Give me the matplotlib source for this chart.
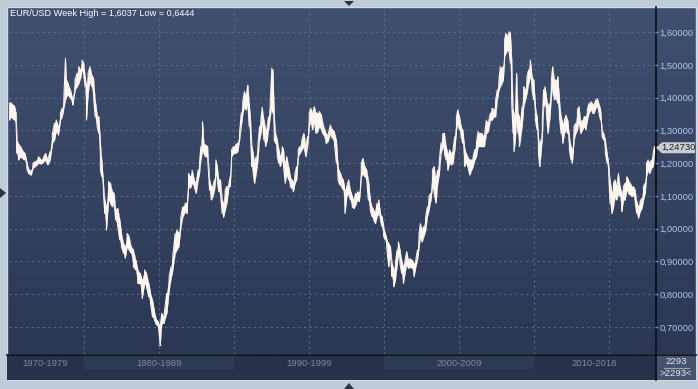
import numpy as np
import matplotlib
matplotlib.use("Agg")
import matplotlib.pyplot as plt
import matplotlib.patches as mpatches
from matplotlib.transforms import blended_transform_factory
from matplotlib.ticker import FuncFormatter

plt.rcParams["font.family"] = ["Liberation Sans", "DejaVu Sans"]

# weekly EUR/USD as (year, high, low) knots
years = [
    1975.06, 1975.17, 1975.39, 1975.50, 1975.57, 1975.66, 1975.79, 1975.92, 1976.10, 1976.23,
    1976.37, 1976.50, 1976.63, 1976.77, 1976.99, 1977.17, 1977.34, 1977.48, 1977.61, 1977.77,
    1977.92, 1978.06, 1978.17, 1978.32, 1978.46, 1978.57, 1978.68, 1978.79, 1978.86, 1978.99,
    1979.12, 1979.28, 1979.43, 1979.57, 1979.68, 1979.79, 1979.90, 1980.01, 1980.10, 1980.19,
    1980.30, 1980.43, 1980.54, 1980.66, 1980.77, 1980.90, 1981.01, 1981.12, 1981.21, 1981.32,
    1981.41, 1981.52, 1981.66, 1981.79, 1981.92, 1982.03, 1982.14, 1982.28, 1982.41, 1982.52,
    1982.66, 1982.77, 1982.90, 1983.03, 1983.17, 1983.32, 1983.48, 1983.61, 1983.77, 1983.90,
    1984.06, 1984.19, 1984.34, 1984.46, 1984.59, 1984.72, 1984.86, 1984.99, 1985.10, 1985.21,
    1985.34, 1985.54, 1985.70, 1985.83, 1985.94, 1986.10, 1986.21, 1986.34, 1986.48, 1986.61,
    1986.77, 1986.88, 1986.99, 1987.10, 1987.23, 1987.37, 1987.50, 1987.63, 1987.72, 1987.81,
    1987.92, 1988.01, 1988.12, 1988.26, 1988.39, 1988.50, 1988.61, 1988.72, 1988.81, 1988.90,
    1989.01, 1989.12, 1989.23, 1989.32, 1989.43, 1989.54, 1989.68, 1989.77, 1989.86, 1989.99,
    1990.12, 1990.26, 1990.39, 1990.50, 1990.61, 1990.72, 1990.83, 1990.94, 1991.03, 1991.12,
    1991.21, 1991.30, 1991.39, 1991.50, 1991.61, 1991.72, 1991.81, 1991.90, 1992.01, 1992.12,
    1992.23, 1992.32, 1992.43, 1992.54, 1992.61, 1992.70, 1992.79, 1992.90, 1993.01, 1993.10,
    1993.23, 1993.32, 1993.43, 1993.54, 1993.66, 1993.77, 1993.88, 1993.97, 1994.08, 1994.19,
    1994.30, 1994.41, 1994.54, 1994.68, 1994.81, 1994.92, 1995.03, 1995.14, 1995.26, 1995.37,
    1995.48, 1995.59, 1995.70, 1995.84, 1995.99, 1996.15, 1996.28, 1996.44, 1996.57, 1996.70,
    1996.84, 1996.95, 1997.06, 1997.19, 1997.30, 1997.41, 1997.53, 1997.66, 1997.77, 1997.90,
    1998.01, 1998.13, 1998.24, 1998.37, 1998.50, 1998.61, 1998.73, 1998.86, 1998.97, 1999.10,
    1999.21, 1999.33, 1999.44, 1999.55, 1999.66, 1999.77, 1999.88, 1999.99, 2000.10, 2000.21,
    2000.33, 2000.44, 2000.55, 2000.66, 2000.77, 2000.88, 2000.97, 2001.08, 2001.19, 2001.30,
    2001.41, 2001.53, 2001.64, 2001.77, 2001.90, 2002.01, 2002.13, 2002.24, 2002.35, 2002.44,
    2002.55, 2002.66, 2002.79, 2002.90, 2003.01, 2003.12, 2003.24, 2003.35, 2003.48, 2003.59,
    2003.70, 2003.81, 2003.93, 2004.04, 2004.15, 2004.26, 2004.37, 2004.50, 2004.61, 2004.73,
    2004.84, 2004.93, 2005.04, 2005.15, 2005.26, 2005.37, 2005.48, 2005.59, 2005.73, 2005.84,
    2005.95, 2006.06, 2006.17, 2006.28, 2006.39, 2006.54, 2006.70, 2006.83, 2006.96, 2007.10,
    2007.21, 2007.34, 2007.45, 2007.56, 2007.67, 2007.76, 2007.87, 2007.96, 2008.05, 2008.14,
    2008.25, 2008.36, 2008.43, 2008.52, 2008.61, 2008.67, 2008.76, 2008.85, 2008.94, 2009.03,
    2009.12, 2009.21, 2009.32, 2009.43, 2009.54, 2009.65, 2009.76, 2009.87, 2009.99, 2010.10,
    2010.21, 2010.30, 2010.39, 2010.47, 2010.56, 2010.65, 2010.74, 2010.83, 2010.94, 2011.05,
    2011.16, 2011.25, 2011.36, 2011.47, 2011.59, 2011.70, 2011.81, 2011.92, 2012.03, 2012.14,
    2012.25, 2012.36, 2012.47, 2012.56, 2012.67, 2012.79, 2012.90, 2013.01, 2013.12, 2013.23,
    2013.34, 2013.45, 2013.56, 2013.67, 2013.79, 2013.90, 2014.01, 2014.12, 2014.21, 2014.32,
    2014.43, 2014.54, 2014.65, 2014.76, 2014.88, 2014.99, 2015.07, 2015.19, 2015.30, 2015.41,
    2015.52, 2015.63, 2015.74, 2015.85, 2015.96, 2016.07, 2016.19, 2016.30, 2016.41, 2016.52,
    2016.63, 2016.74, 2016.85, 2016.96, 2017.07, 2017.19, 2017.30, 2017.41, 2017.50, 2017.61,
    2017.72, 2017.83, 2017.94, 2018.03,
]
highs = [
    1.383, 1.385, 1.375, 1.353, 1.266, 1.261, 1.251, 1.241, 1.230, 1.200,
    1.179, 1.177, 1.200, 1.205, 1.220, 1.210, 1.220, 1.230, 1.210, 1.235,
    1.291, 1.322, 1.332, 1.312, 1.353, 1.368, 1.393, 1.521, 1.455, 1.440,
    1.424, 1.393, 1.455, 1.475, 1.495, 1.485, 1.515, 1.505, 1.465, 1.434,
    1.475, 1.495, 1.470, 1.459, 1.393, 1.347, 1.342, 1.261, 1.210, 1.139,
    1.088, 1.067, 1.144, 1.139, 1.113, 1.108, 1.057, 1.062, 1.027, 0.986,
    0.955, 0.945, 0.986, 0.976, 0.945, 0.935, 0.904, 0.874, 0.864, 0.843,
    0.874, 0.864, 0.833, 0.803, 0.782, 0.747, 0.721, 0.716, 0.701, 0.742,
    0.731, 0.803, 0.854, 0.884, 0.915, 0.986, 0.996, 0.986, 1.037, 1.067,
    1.078, 1.078, 1.169, 1.159, 1.179, 1.149, 1.139, 1.179, 1.200, 1.251,
    1.327, 1.261, 1.256, 1.251, 1.149, 1.129, 1.129, 1.149, 1.210, 1.190,
    1.149, 1.149, 1.088, 1.078, 1.118, 1.129, 1.139, 1.159, 1.241, 1.251,
    1.256, 1.261, 1.291, 1.353, 1.393, 1.419, 1.403, 1.439, 1.383, 1.332,
    1.251, 1.230, 1.200, 1.220, 1.251, 1.312, 1.332, 1.371, 1.332, 1.302,
    1.312, 1.342, 1.383, 1.490, 1.485, 1.342, 1.291, 1.271, 1.241, 1.220,
    1.251, 1.241, 1.190, 1.220, 1.190, 1.159, 1.149, 1.144, 1.169, 1.190,
    1.241, 1.251, 1.271, 1.291, 1.251, 1.281, 1.353, 1.368, 1.353, 1.373,
    1.353, 1.353, 1.358, 1.347, 1.312, 1.291, 1.286, 1.317, 1.302, 1.297,
    1.271, 1.190, 1.174, 1.159, 1.149, 1.118, 1.129, 1.149, 1.118, 1.098,
    1.088, 1.108, 1.113, 1.108, 1.200, 1.215, 1.190, 1.179, 1.149, 1.088,
    1.067, 1.057, 1.047, 1.078, 1.088, 1.047, 1.037, 1.006, 0.986, 0.966,
    0.955, 0.945, 0.894, 0.874, 0.894, 0.935, 0.960, 0.935, 0.904, 0.884,
    0.904, 0.930, 0.904, 0.909, 0.904, 0.894, 0.904, 0.935, 0.986, 1.016,
    0.996, 1.006, 1.037, 1.067, 1.098, 1.108, 1.179, 1.190, 1.149, 1.179,
    1.210, 1.261, 1.291, 1.291, 1.251, 1.230, 1.241, 1.230, 1.241, 1.281,
    1.342, 1.363, 1.342, 1.312, 1.302, 1.251, 1.230, 1.220, 1.210, 1.210,
    1.220, 1.241, 1.261, 1.297, 1.291, 1.291, 1.281, 1.332, 1.322, 1.353,
    1.368, 1.363, 1.393, 1.424, 1.454, 1.495, 1.490, 1.495, 1.577, 1.597,
    1.587, 1.602, 1.597, 1.515, 1.363, 1.353, 1.342, 1.475, 1.353, 1.342,
    1.322, 1.373, 1.434, 1.424, 1.465, 1.485, 1.515, 1.465, 1.454, 1.373,
    1.342, 1.281, 1.251, 1.271, 1.332, 1.424, 1.434, 1.403, 1.373, 1.383,
    1.454, 1.495, 1.454, 1.454, 1.465, 1.393, 1.342, 1.322, 1.332, 1.347,
    1.332, 1.281, 1.251, 1.241, 1.312, 1.322, 1.363, 1.373, 1.322, 1.332,
    1.342, 1.342, 1.363, 1.383, 1.388, 1.383, 1.378, 1.393, 1.398, 1.383,
    1.368, 1.302, 1.291, 1.271, 1.230, 1.190, 1.149, 1.108, 1.139, 1.149,
    1.129, 1.169, 1.129, 1.108, 1.129, 1.139, 1.159, 1.149, 1.139, 1.129,
    1.129, 1.118, 1.083, 1.067, 1.083, 1.093, 1.129, 1.139, 1.200, 1.210,
    1.200, 1.210, 1.230, 1.251,
]
lows = [
    1.332, 1.342, 1.332, 1.322, 1.230, 1.210, 1.220, 1.215, 1.210, 1.180,
    1.167, 1.164, 1.185, 1.190, 1.200, 1.198, 1.205, 1.210, 1.195, 1.210,
    1.261, 1.271, 1.297, 1.286, 1.332, 1.342, 1.368, 1.393, 1.404, 1.409,
    1.398, 1.378, 1.424, 1.434, 1.444, 1.459, 1.485, 1.470, 1.434, 1.332,
    1.414, 1.454, 1.434, 1.403, 1.342, 1.312, 1.291, 1.179, 1.159, 1.108,
    1.047, 0.996, 1.088, 1.078, 1.067, 1.078, 1.027, 1.006, 0.966, 0.945,
    0.925, 0.910, 0.945, 0.935, 0.925, 0.884, 0.874, 0.833, 0.833, 0.787,
    0.833, 0.823, 0.792, 0.772, 0.731, 0.721, 0.706, 0.701, 0.645, 0.711,
    0.711, 0.742, 0.813, 0.849, 0.874, 0.925, 0.935, 0.945, 1.006, 1.037,
    1.052, 1.047, 1.129, 1.123, 1.139, 1.129, 1.108, 1.149, 1.169, 1.210,
    1.241, 1.230, 1.220, 1.220, 1.118, 1.088, 1.098, 1.118, 1.169, 1.149,
    1.113, 1.108, 1.047, 1.035, 1.057, 1.078, 1.129, 1.129, 1.220, 1.230,
    1.230, 1.235, 1.271, 1.312, 1.353, 1.373, 1.363, 1.383, 1.312, 1.281,
    1.190, 1.169, 1.139, 1.169, 1.210, 1.271, 1.291, 1.332, 1.271, 1.251,
    1.271, 1.302, 1.342, 1.373, 1.353, 1.271, 1.261, 1.220, 1.200, 1.190,
    1.210, 1.190, 1.139, 1.169, 1.149, 1.129, 1.123, 1.113, 1.139, 1.149,
    1.220, 1.230, 1.241, 1.251, 1.220, 1.251, 1.312, 1.332, 1.302, 1.332,
    1.291, 1.297, 1.312, 1.302, 1.286, 1.261, 1.266, 1.291, 1.276, 1.266,
    1.200, 1.149, 1.134, 1.129, 1.118, 1.047, 1.098, 1.108, 1.088, 1.067,
    1.062, 1.073, 1.088, 1.083, 1.159, 1.169, 1.159, 1.149, 1.088, 1.057,
    1.037, 1.027, 1.016, 1.037, 1.047, 1.027, 1.006, 0.976, 0.966, 0.935,
    0.884, 0.925, 0.854, 0.823, 0.843, 0.884, 0.925, 0.894, 0.864, 0.833,
    0.864, 0.894, 0.879, 0.884, 0.879, 0.854, 0.884, 0.904, 0.945, 0.976,
    0.960, 0.976, 0.996, 1.037, 1.057, 1.083, 1.129, 1.108, 1.078, 1.139,
    1.169, 1.230, 1.251, 1.230, 1.210, 1.179, 1.200, 1.195, 1.200, 1.241,
    1.302, 1.322, 1.302, 1.281, 1.261, 1.190, 1.200, 1.190, 1.164, 1.179,
    1.190, 1.210, 1.220, 1.251, 1.251, 1.251, 1.251, 1.291, 1.297, 1.332,
    1.332, 1.342, 1.342, 1.393, 1.424, 1.434, 1.444, 1.454, 1.526, 1.536,
    1.546, 1.536, 1.505, 1.383, 1.291, 1.236, 1.271, 1.342, 1.291, 1.251,
    1.281, 1.312, 1.373, 1.393, 1.414, 1.444, 1.465, 1.424, 1.393, 1.332,
    1.302, 1.230, 1.190, 1.230, 1.281, 1.373, 1.383, 1.353, 1.291, 1.332,
    1.403, 1.434, 1.393, 1.403, 1.383, 1.342, 1.291, 1.261, 1.291, 1.302,
    1.291, 1.241, 1.210, 1.200, 1.271, 1.291, 1.302, 1.332, 1.291, 1.302,
    1.312, 1.302, 1.332, 1.353, 1.363, 1.353, 1.353, 1.368, 1.373, 1.358,
    1.332, 1.281, 1.271, 1.230, 1.200, 1.159, 1.078, 1.047, 1.067, 1.098,
    1.088, 1.108, 1.098, 1.052, 1.088, 1.088, 1.118, 1.108, 1.103, 1.098,
    1.103, 1.083, 1.047, 1.032, 1.052, 1.062, 1.088, 1.108, 1.159, 1.179,
    1.169, 1.185, 1.190, 1.230,
]
last_price = 1.24730
week_high = "1,6037"
week_low = "0,6444"
bar_count = 2293

y_ticks = [0.7, 0.8, 0.9, 1.0, 1.1, 1.2, 1.3, 1.4, 1.5, 1.6]
x_grid = [1980, 1985, 1990, 1995, 2000, 2005, 2010, 2015]
decades = ["1970-1979", "1980-1989", "1990-1999", "2000-2009", "2010-2018"]
decade_edges = [1975.0, 1980.0, 1990.0, 2000.0, 2010.0, 2018.09]

W, H = 698, 389
fig = plt.figure(figsize=(W / 100, H / 100), dpi=100)
fig.patch.set_facecolor("#c0cbd8")

# pixel-space background axes
bg = fig.add_axes([0, 0, 1, 1])
bg.set_xlim(0, W)
bg.set_ylim(H, 0)
bg.axis("off")

grad = np.linspace(0, 1, 256).reshape(-1, 1)
cmap = matplotlib.colors.LinearSegmentedColormap.from_list("bgc", ["#415070", "#2b3753"])
bg.imshow(grad, extent=[7, 696, 354, 7], cmap=cmap, aspect="auto", zorder=0)
bg.add_patch(mpatches.Rectangle((7, 7), 689, 373, fill=False, ec="#d4dbe4", lw=1, zorder=1))
bg.add_patch(mpatches.Rectangle((7, 354.5), 649, 25.5, fc="#27334b", ec="none", zorder=1))
bg.add_patch(mpatches.Rectangle((656, 354.5), 40, 25.5, fc="#46536e", ec="none", zorder=1))
bg.plot([7, 696], [354.5, 354.5], color="#0c0c0c", lw=1.2, zorder=3)
bg.plot([655.5, 655.5], [7, 380], color="#0c0c0c", lw=1.2, zorder=3)

# navigation triangles
for pts in ([(344, 1), (354, 1), (349, 6)], [(344, 389), (354, 389), (349, 383)], [(0, 188), (0, 198), (6, 193)]):
    bg.add_patch(mpatches.Polygon(pts, closed=True, fc="#2b3440", ec="none", zorder=2))

bg.text(10, 13, f"EUR/USD Week High = {week_high} Low = {week_low}", color="white",
        fontsize=6.6, va="center", ha="left", zorder=4)

bg.text(676, 361.5, str(bar_count), color="#e4eaf2", fontsize=6.8, ha="center", va="center", zorder=4)
bg.plot([664, 689], [367.5, 367.5], color="#9aa4b6", lw=0.8, zorder=4)
bg.text(676, 374, f">{bar_count}<", color="#e4eaf2", fontsize=6.8, ha="center", va="center", zorder=4)

# data axes
x0, x1, y0, y1 = 8.5, 655.3, 8, 354
ax = fig.add_axes([x0 / W, (H - y1) / H, (x1 - x0) / W, (y1 - y0) / H])
ax.set_facecolor("none")
ax.set_xlim(1975.0, 2018.09)
ax.set_ylim(0.6175, 1.674)
for s in ax.spines.values():
    s.set_visible(False)

for v in y_ticks:
    ax.axhline(v, color="#5a6985", lw=0.8, ls=(0, (2, 3)), zorder=1)
for v in x_grid:
    ax.axvline(v, color="#5a6985", lw=0.8, ls=(0, (2, 3)), zorder=1)

ax.yaxis.tick_right()
ax.set_yticks(y_ticks)
ax.yaxis.set_major_formatter(FuncFormatter(lambda v, p: f"{v:.5f}".replace(".", ",")))
ax.tick_params(axis="y", colors="#5b8fd0", length=2, width=1, pad=1, labelsize=6.8, labelcolor="#a9c6ee")
ax.set_xticks([])

yr = np.array(years)
hi = np.array(highs)
lo = np.array(lows)
col = "#fff6f0"
ax.fill_between(yr, lo, hi, color=col, lw=0.2, ec=col, zorder=3)
zx = np.repeat(yr, 2)
zy = np.empty(2 * len(yr))
zy[0::2] = np.where(np.arange(len(yr)) % 2 == 0, lo, hi)
zy[1::2] = np.where(np.arange(len(yr)) % 2 == 0, hi, lo)
ax.plot(zx, zy, color=col, lw=0.7, zorder=3)

# decade strip below the plot
tr = blended_transform_factory(ax.transData, bg.transData)
for i, lab in enumerate(decades):
    a, b = decade_edges[i], decade_edges[i + 1]
    if i % 2 == 1:
        bg.add_patch(mpatches.Rectangle((a, 355.5), b - a, 13.5, transform=tr, fc="#2e3b56", ec="none", zorder=2))
    cx = (a + b) / 2 if i > 0 else a + (b - a) * 0.49
    bg.text(cx, 363, lab, transform=tr, color="#7d889e",
            fontsize=6.8, ha="center", va="center", zorder=4)

bg.text(160, 344, "1", color="white", fontsize=5.5, ha="center", va="center", zorder=4)

# last price marker
py = (y1 - y0) * (ax.get_ylim()[1] - last_price) / (ax.get_ylim()[1] - ax.get_ylim()[0]) + y0
bg.add_patch(mpatches.Polygon([(656, py), (662, py - 5.5), (695, py - 5.5), (695, py + 5.5), (662, py + 5.5)],
                              closed=True, fc="#c9ced4", ec="none", zorder=4))
bg.text(678.5, py, f"{last_price:.5f}".replace(".", ","), color="#1c1c1c", fontsize=6.8,
        ha="center", va="center", zorder=5)

fig.savefig("out.png", dpi=100, facecolor=fig.get_facecolor())
